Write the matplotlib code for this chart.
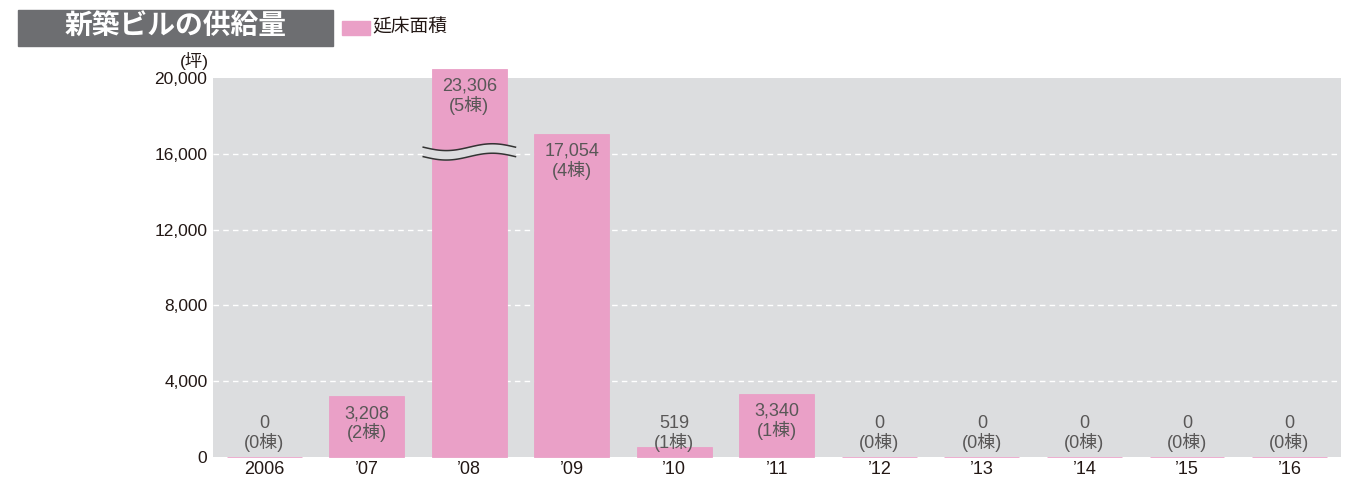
import matplotlib.pyplot as plt
import matplotlib.patches as mpatches
import numpy as np

plt.rcParams['font.family'] = ['Liberation Sans', 'Noto Sans CJK JP', 'DejaVu Sans']

years = ['2006', '’07', '’08', '’09', '’10', '’11', '’12', '’13', '’14', '’15', '’16']
area = [0, 3208, 23306, 17054, 519, 3340, 0, 0, 0, 0, 0]
buildings = [0, 2, 5, 4, 1, 1, 0, 0, 0, 0, 0]
yticks = [0, 4000, 8000, 12000, 16000, 20000]

PINK = '#eaa0c7'
BG = '#dcdddf'
TXT = '#595757'
CAP = 20480  # 軸上限を超えるバーの表示高さ

fig = plt.figure(figsize=(13.57, 4.79), dpi=100)
ax = fig.add_axes([0.1570, 0.0459, 0.8310, 0.7913])
ax.set_facecolor(BG)
for s in ax.spines.values():
    s.set_visible(False)

x = np.arange(len(years))
shown = [min(v, CAP) for v in area]
ax.bar(x, shown, width=0.73, color=PINK, edgecolor=PINK, linewidth=0.6,
       clip_on=False, zorder=3)

ax.set_xlim(-0.5, len(years) - 0.5)
ax.set_ylim(0, 20000)
ax.set_yticks(yticks)
ax.set_yticklabels(['{:,}'.format(t) for t in yticks])
ax.set_xticks(x)
ax.set_xticklabels(years)
ax.tick_params(length=0, colors='#231815')
ax.tick_params(axis='y', labelsize=12.5, pad=4)
ax.tick_params(axis='x', labelsize=13, pad=3)
for t in yticks[1:-1]:
    ax.axhline(t, color='white', lw=1, ls=(0, (4, 3)), zorder=1)

# 値ラベル
for xi, h, v, n in zip(x, shown, area, buildings):
    ytop = max(h, 2700)
    ax.annotate('{:,}\n({}棟)'.format(v, n), (xi, ytop), xytext=(0, -6.5),
                textcoords='offset points', ha='center', va='top',
                fontsize=13, color=TXT, linespacing=1.05, zorder=5,
                annotation_clip=False)

# 省略記号（波線）
wx = np.linspace(2 - 0.45, 2 + 0.45, 100)
wave = 180 * np.sin((wx - 2) / 0.45 * np.pi)
lo = 15850 + wave
hi = 16350 + wave
ax.fill_between(wx, lo, hi, color=BG, zorder=4, lw=0)
ax.plot(wx, lo, color='#333333', lw=1.1, zorder=4.5)
ax.plot(wx, hi, color='#333333', lw=1.1, zorder=4.5)

# タイトル
fig.patches.append(mpatches.Rectangle((18 / 1357, 1 - 46 / 479), 315 / 1357, 36 / 479,
                                      transform=fig.transFigure, color='#6d6e71'))
fig.text(176 / 1357, 1 - 28 / 479, '新築ビルの供給量', color='white', fontsize=20,
         weight='bold', ha='center', va='center')
fig.patches.append(mpatches.Rectangle((342 / 1357, 1 - 35 / 479), 28 / 1357, 14 / 479,
                                      transform=fig.transFigure, color=PINK))
fig.text(372 / 1357, 1 - 28 / 479, '延床面積', color='#231815', fontsize=13.5,
         ha='left', va='center')
fig.text(194 / 1357, 1 - 61 / 479, '(坪)', color='#231815', fontsize=12.5,
         ha='center', va='center')

plt.savefig('out.png', dpi=100)
